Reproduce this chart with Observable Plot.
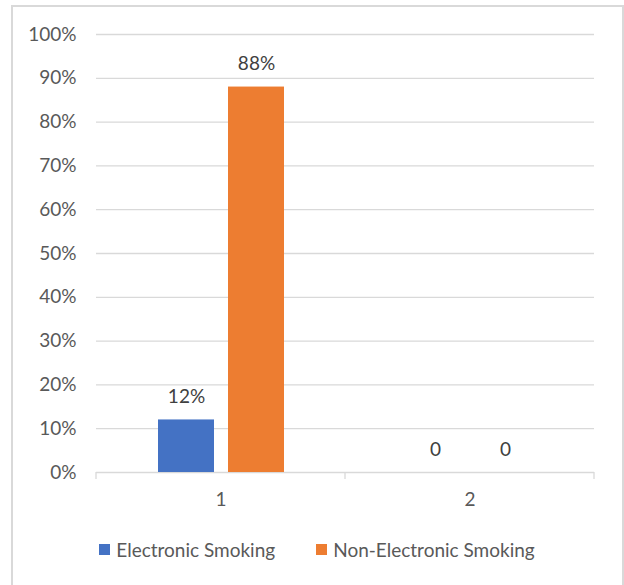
<!DOCTYPE html>
<html>
<head>
<meta charset="utf-8">
<script src="https://cdn.jsdelivr.net/npm/d3@7"></script>
<script src="https://cdn.jsdelivr.net/npm/@observablehq/plot@0.6"></script>
<style>
  body { margin: 0; background: #fff; }
  #wrap { position: relative; width: 624px; height: 585px; overflow: hidden; background: #fff; font-family: Lato, sans-serif; }
  #border { position: absolute; left: 11px; top: 5px; width: 609px; height: 620px; border: 2px solid #d9d9d9; }
  #chart { position: absolute; left: 0; top: 0; }
  #legend { position: absolute; left: 5px; width: 624px; top: 538px; display: flex; justify-content: center; gap: 41px; font-size: 19px; color: #595959; }
  #legend .item { display: flex; align-items: center; }
  #legend .sw { width: 11px; height: 11px; margin-right: 6px; }
</style>
</head>
<body>
<div id="wrap">
  <div id="border"></div>
  <div id="chart"></div>
  <div id="legend"></div>
</div>
<script>
const groups = ["1", "2"];
const series = ["Electronic Smoking", "Non-Electronic Smoking"];
const electronic = [0.12, 0];
const nonElectronic = [0.88, 0];
const colors = ["#4472C4", "#ED7D31"];
const yTicks = [0, 0.1, 0.2, 0.3, 0.4, 0.5, 0.6, 0.7, 0.8, 0.9, 1.0];

const rows = [];
groups.forEach((g, i) => {
  rows.push({group: g, series: series[0], value: electronic[i]});
  rows.push({group: g, series: series[1], value: nonElectronic[i]});
});

const fmtPct = d3.format(".0%");
const label = d => d.value === 0 ? "0" : fmtPct(d.value);

const chart = Plot.plot({
  width: 624,
  height: 515,
  marginLeft: 96,
  marginRight: 30,
  marginTop: 34,
  marginBottom: 43,
  style: {fontFamily: "Lato, sans-serif", fontSize: "19px", color: "#595959", background: "transparent"},
  fx: {domain: groups, padding: 0, axis: "bottom", tickSize: 0, tickPadding: 20, label: null},
  x: {domain: series, paddingInner: 0.2, paddingOuter: 0.866, axis: null},
  y: {domain: [0, 1], ticks: yTicks, tickFormat: ".0%", tickSize: 0, tickPadding: 20, label: null},
  color: {domain: series, range: colors},
  marks: [
    Plot.ruleY(yTicks, {stroke: "#d9d9d9", strokeWidth: 1.3, strokeOpacity: 1}),
    Plot.barY(rows, {fx: "group", x: "series", y: "value", fill: "series"}),
    Plot.text(rows, {fx: "group", x: "series", y: "value", text: label, dy: -23, fill: "#404040", fontSize: 19})
  ]
});
document.getElementById("chart").appendChild(chart);

// category boundary tick marks on the x axis line
const fxs = chart.scale("fx");
const ys = chart.scale("y");
const [r0, r1] = fxs.range;
const step = (r1 - r0) / fxs.domain.length;
const y0 = ys.range[0];
const svg = d3.select(chart);
d3.range(fxs.domain.length + 1).forEach(i => {
  const x = r0 + i * step;
  svg.append("line")
    .attr("x1", x).attr("x2", x)
    .attr("y1", y0).attr("y2", y0 + 7)
    .attr("stroke", "#d9d9d9").attr("stroke-width", 1.3);
});

const legend = d3.select("#legend");
series.forEach((s, i) => {
  const item = legend.append("div").attr("class", "item");
  item.append("div").attr("class", "sw").style("background", colors[i]);
  item.append("span").text(s);
});
</script>
</body>
</html>
